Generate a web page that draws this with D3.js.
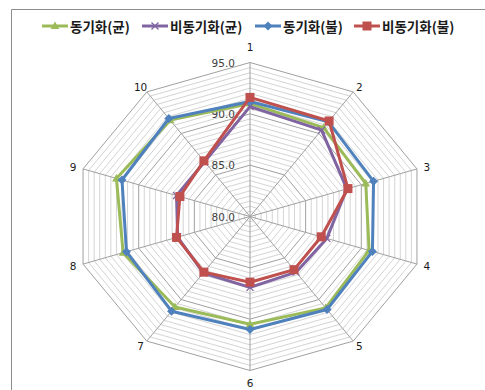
<!DOCTYPE html>
<html>
<head>
<meta charset="utf-8">
<script src="https://cdn.jsdelivr.net/npm/d3@7/dist/d3.min.js"></script>
<style>
  html, body { margin: 0; padding: 0; background: #fff; }
  svg { display: block; }
</style>
</head>
<body>
<svg id="chart" width="485" height="390"></svg>
<script>
// Categories (radar spokes)
const categories = ["1", "2", "3", "4", "5", "6", "7", "8", "9", "10"];

// Series names and values
const seriesNames = ["동기화(균)", "비동기화(균)", "동기화(불)", "비동기화(불)"];
const syncGyun    = [91.0, 90.7, 90.4, 90.7, 91.0, 90.5, 90.9, 91.4, 92.0, 91.6];
const asyncGyun   = [90.7, 90.4, 88.7, 86.9, 86.7, 86.9, 86.8, 86.5, 86.6, 86.6];
const syncBul     = [91.2, 91.4, 91.1, 91.0, 91.2, 91.0, 91.4, 91.1, 91.5, 91.8];
const asyncBul    = [91.6, 91.5, 88.8, 86.4, 86.4, 86.4, 86.7, 86.6, 86.3, 86.7];

// Radial axis ticks
const tickValues = [80, 85, 90, 95];
const tickLabels = ["80.0", "85.0", "90.0", "95.0"];

const seriesValues = [syncGyun, asyncGyun, syncBul, asyncBul];
const colors  = ["#9BBB59", "#8064A2", "#4F81BD", "#C0504D"];
const markers = ["triangle", "cross", "diamond", "square"];

const svg = d3.select("#chart");
const cx = 250, cy = 216.5;
const R = 154;          // vertical radius of the plot
const xStretch = 1.14;  // plot area is wider than tall

const r = d3.scaleLinear().domain([80, 95]).range([0, R]);
const angle = d3.scaleLinear().domain([0, categories.length]).range([0, 2 * Math.PI]);

function pt(i, v) {
  const a = angle(i), rr = r(v);
  return [cx + Math.sin(a) * rr * xStretch, cy - Math.cos(a) * rr];
}

// Frame
svg.append("path")
  .attr("d", "M11.5,390 L11.5,9.5 L485,9.5")
  .attr("fill", "none").attr("stroke", "#8c8c8c").attr("stroke-width", 1);

const grid = svg.append("g");
const ringLine = d3.line().curve(d3.curveLinearClosed);

// Minor rings every 0.5
d3.range(80.5, 95.001, 0.5).forEach(v => {
  const major = Math.abs(v - Math.round(v / 5) * 5) < 1e-6;
  if (major) return;
  grid.append("path")
    .attr("d", ringLine(categories.map((c, i) => pt(i, v))))
    .attr("fill", "none").attr("stroke", "#d4d4d4").attr("stroke-width", 1);
});
// Major rings
tickValues.filter(v => v > 80).forEach(v => {
  grid.append("path")
    .attr("d", ringLine(categories.map((c, i) => pt(i, v))))
    .attr("fill", "none").attr("stroke", "#a0a0a0").attr("stroke-width", 1);
});
// Spokes
categories.forEach((c, i) => {
  const [x, y] = pt(i, 95);
  grid.append("line")
    .attr("x1", cx).attr("y1", cy).attr("x2", x).attr("y2", y)
    .attr("stroke", "#a0a0a0").attr("stroke-width", 1);
});

// Category labels
categories.forEach((c, i) => {
  const a = angle(i);
  const [x, y] = pt(i, 95);
  const s = Math.sin(a), co = Math.cos(a);
  let dy = -co * 5.5;
  if (co > 0.99) dy = -15.5;
  if (co < -0.99) dy = 12;
  svg.append("text")
    .attr("x", x + s * 10.5).attr("y", y + dy)
    .attr("text-anchor", "middle").attr("dominant-baseline", "central")
    .attr("font-family", "DejaVu Sans, sans-serif").attr("font-size", 10.5)
    .attr("fill", "#1a1a1a").text(c);
});

// Radial tick labels along the first spoke
tickValues.forEach((v, k) => {
  svg.append("text")
    .attr("x", cx - 15).attr("y", cy - r(v))
    .attr("text-anchor", "end").attr("dominant-baseline", "central")
    .attr("font-family", "DejaVu Sans, sans-serif").attr("font-size", 10.5)
    .attr("fill", "#404040").text(tickLabels[k]);
});

// Marker drawing
function drawMarker(g, type, x, y, color) {
  if (type === "triangle") {
    g.append("path").attr("d", d3.symbol().type(d3.symbolTriangle).size(32)())
      .attr("transform", `translate(${x},${y + 0.5})`).attr("fill", color);
  } else if (type === "cross") {
    const s = 3.5;
    g.append("path").attr("d", `M${x - s},${y - s}L${x + s},${y + s}M${x - s},${y + s}L${x + s},${y - s}`)
      .attr("stroke", color).attr("stroke-width", 1.3).attr("fill", "none");
  } else if (type === "diamond") {
    const s = 4.5;
    g.append("path").attr("d", `M${x},${y - s}L${x + s},${y}L${x},${y + s}L${x - s},${y}Z`)
      .attr("fill", color);
  } else if (type === "square") {
    const s = 4.5;
    g.append("rect").attr("x", x - s).attr("y", y - s).attr("width", 2 * s).attr("height", 2 * s)
      .attr("fill", color);
  }
}

// Series polygons
seriesValues.forEach((vals, k) => {
  const g = svg.append("g");
  const pts = vals.map((v, i) => pt(i, v));
  g.append("path")
    .attr("d", ringLine(pts))
    .attr("fill", "none").attr("stroke", colors[k]).attr("stroke-width", 3)
    .attr("stroke-linejoin", "round");
  pts.forEach(([x, y]) => drawMarker(g, markers[k], x, y, colors[k]));
});

// Legend
const legendX = [42, 142, 255, 354];
const legendY = 26;
seriesNames.forEach((name, k) => {
  const g = svg.append("g");
  const x0 = legendX[k];
  g.append("line").attr("x1", x0).attr("x2", x0 + 26).attr("y1", legendY).attr("y2", legendY)
    .attr("stroke", colors[k]).attr("stroke-width", 3);
  drawMarker(g, markers[k], x0 + 13, legendY, colors[k]);
  g.append("text").attr("x", x0 + 28).attr("y", legendY)
    .attr("dominant-baseline", "central")
    .attr("font-family", "Noto Sans CJK KR, sans-serif").attr("font-weight", "bold")
    .attr("font-size", 13.5).attr("fill", "#1a1a1a").text(name);
});
</script>
</body>
</html>
